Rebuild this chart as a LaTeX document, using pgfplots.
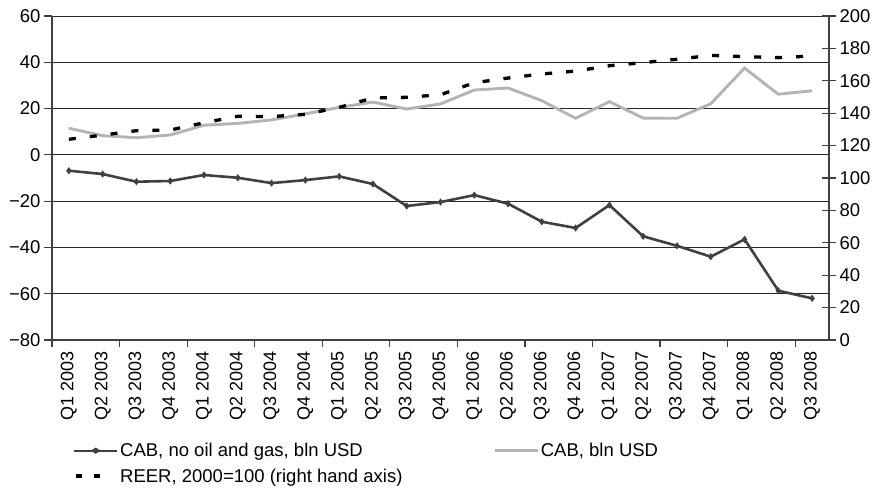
\documentclass[border=0pt]{standalone}
\usepackage{pgfplots}
\pgfplotsset{compat=1.18}
\usepackage{fontspec}
\setmainfont{Liberation Sans}
\definecolor{darkser}{HTML}{404040}
\definecolor{lightser}{HTML}{B4B4B4}
\definecolor{axcol}{HTML}{404040}
\begin{document}
\begin{tikzpicture}
\path[use as bounding box] (0,0) rectangle (874pt,490pt);
\begin{axis}[
  at={(52pt,150pt)}, anchor=south west,
  scale only axis, width=777pt, height=324pt,
  xmin=-0.5, xmax=22.5, ymin=-80, ymax=60,
  axis y line*=left, axis x line*=bottom,
  axis line style={axcol, line width=1.3pt},
  xtick={0,...,22},
  xticklabels={Q1 2003,Q2 2003,Q3 2003,Q4 2003,Q1 2004,Q2 2004,Q3 2004,Q4 2004,Q1 2005,Q2 2005,Q3 2005,Q4 2005,Q1 2006,Q2 2006,Q3 2006,Q4 2006,Q1 2007,Q2 2007,Q3 2007,Q4 2007,Q1 2008,Q2 2008,Q3 2008},
  x tick label style={rotate=90, anchor=east, font=\fontsize{18}{21}\selectfont},
  major x tick style={draw=none},
  minor xtick={-0.5,1.5,...,21.5},
  minor x tick style={axcol, line width=1.2pt},
  minor tick length=7pt,
  xtick pos=bottom, tick align=outside,
  ytick={-80,-60,...,60},
  yticklabels={−80,−60,−40,−20,0,20,40,60},
  y tick label style={font=\fontsize{18.5}{21}\selectfont},
  major tick length=8pt,
  ytick style={axcol, line width=1.2pt},
  ytick pos=left,
  ymajorgrids, major grid style={black!85, line width=0.9pt},
  legend columns=2,
  legend style={at={(0,0)}, anchor=north west, xshift=21pt, yshift=-101pt,
    draw=none, fill=none, inner sep=0pt, font=\fontsize{18.5}{21}\selectfont,
    /tikz/every even column/.append style={column sep=89pt}},
  legend cell align=left,
  /pgfplots/every axis legend/.append style={row sep=6.5pt},
]
\addplot[darkser, line width=2.6pt, mark=diamond*, mark size=3.2pt, mark options={solid, fill=darkser, line width=0.5pt},
  legend image code/.code={\draw[darkser, line width=2pt] (0pt,0pt) -- (43pt,0pt); \draw[darkser, fill=darkser] (19pt,0pt) -- (21.5pt,1.6pt) -- (24pt,0pt) -- (21.5pt,-1.6pt) -- cycle;}]
  coordinates {(0,-6.85)(1,-8.3)(2,-11.6)(3,-11.3)(4,-8.7)(5,-9.9)(6,-12.2)(7,-10.9)(8,-9.3)(9,-12.6)(10,-22.1)(11,-20.4)(12,-17.4)(13,-21.1)(14,-28.9)(15,-31.6)(16,-21.7)(17,-35.2)(18,-39.3)(19,-44.0)(20,-36.5)(21,-58.7)(22,-62.0)};
\addlegendentry{CAB, no oil and gas, bln USD}
\addplot[lightser, line width=2.9pt,
  legend image code/.code={\draw[lightser, line width=2.4pt] (0pt,0pt) -- (43pt,0pt);}]
  coordinates {(0,11.5)(1,8.3)(2,7.4)(3,8.6)(4,12.8)(5,13.6)(6,15.1)(7,17.7)(8,20.5)(9,22.8)(10,19.8)(11,22.0)(12,28.0)(13,28.9)(14,23.4)(15,15.8)(16,23.0)(17,15.9)(18,15.8)(19,22.1)(20,37.5)(21,26.2)(22,27.7)};
\addlegendentry{CAB, bln USD}
\addlegendimage{draw=none, legend image code/.code={\draw[black, line width=3.4pt, dash pattern=on 6pt off 12pt] (2pt,0pt) -- (26pt,0pt);}}
\addlegendentry{REER, 2000=100 (right hand axis)}
\end{axis}
\begin{axis}[
  at={(52pt,150pt)}, anchor=south west,
  scale only axis, width=777pt, height=324pt,
  xmin=-0.5, xmax=22.5, ymin=0, ymax=200,
  axis x line=none, axis y line*=right,
  axis line style={axcol, line width=1.3pt},
  ytick={0,20,...,200},
  /pgf/number format/assume math mode=true,
  y tick label style={font=\fontsize{18.5}{21}\selectfont},
  ytick style={axcol, line width=1.2pt},
  tick align=center, major tick length=14pt,
]
\addplot[black, line width=3.3pt, dash pattern=on 7pt off 14pt]
  coordinates {(0,123.9)(1,126.5)(2,129.2)(3,129.6)(4,134.1)(5,138.1)(6,137.9)(7,139.3)(8,143.6)(9,149.4)(10,149.8)(11,151.4)(12,158.8)(13,161.7)(14,164.2)(15,166.0)(16,169.3)(17,171.2)(18,173.3)(19,175.7)(20,174.9)(21,174.3)(22,175.3)};
\end{axis}
\end{tikzpicture}
\end{document}
